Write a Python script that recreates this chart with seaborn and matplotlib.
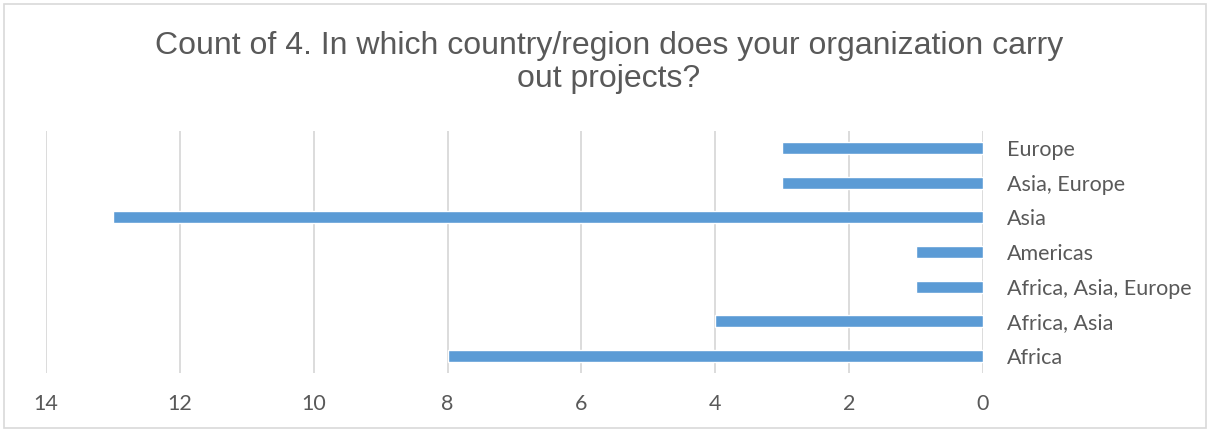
import matplotlib
matplotlib.use("Agg")
import matplotlib.pyplot as plt
import seaborn as sns
import pandas as pd
from matplotlib.patches import Rectangle

regions = ["Europe", "Asia, Europe", "Asia", "Americas",
           "Africa, Asia, Europe", "Africa, Asia", "Africa"]
counts = [3, 3, 13, 1, 1, 4, 8]
x_ticks = [0, 2, 4, 6, 8, 10, 12, 14]

sns.set_theme(style="white")
plt.rcParams["font.family"] = ["Lato", "DejaVu Sans"]

df = pd.DataFrame({"region": regions, "count": counts})

fig = plt.figure(figsize=(12.1, 4.32), dpi=100)
ax = fig.add_axes([46 / 1210, 1 - 373 / 432, (983 - 46) / 1210, (373 - 131) / 432])

sns.barplot(data=df, y="region", x="count", order=regions, orient="h",
            color="#5B9BD5", saturation=1, width=0.35, ax=ax)

ax.set_xlim(14, 0)
ax.set_xticks(x_ticks)
ax.set_xticklabels([str(t) for t in x_ticks])
ax.xaxis.grid(True, color="#D9D9D9", linewidth=1.3)
ax.set_axisbelow(True)
ax.yaxis.tick_right()
ax.tick_params(axis="y", length=0, pad=17, labelsize=15.5, labelcolor="#595959")
ax.tick_params(axis="x", length=0, pad=15, labelsize=15.5, labelcolor="#595959")
ax.set_xlabel("")
ax.set_ylabel("")
for s in ax.spines.values():
    s.set_visible(False)

fig.text(0.503, 0.855, "Count of 4. In which country/region does your organization carry\nout projects?",
         ha="center", va="center", fontsize=23, color="#595959",
         family=["Liberation Sans", "DejaVu Sans"], linespacing=1.15)

fig.patches.append(Rectangle((4 / 1210, 4 / 432), 1202 / 1210, 424 / 432,
                             transform=fig.transFigure, fill=False,
                             edgecolor="#D9D9D9", linewidth=1.2))

fig.savefig("out.png", dpi=100)
